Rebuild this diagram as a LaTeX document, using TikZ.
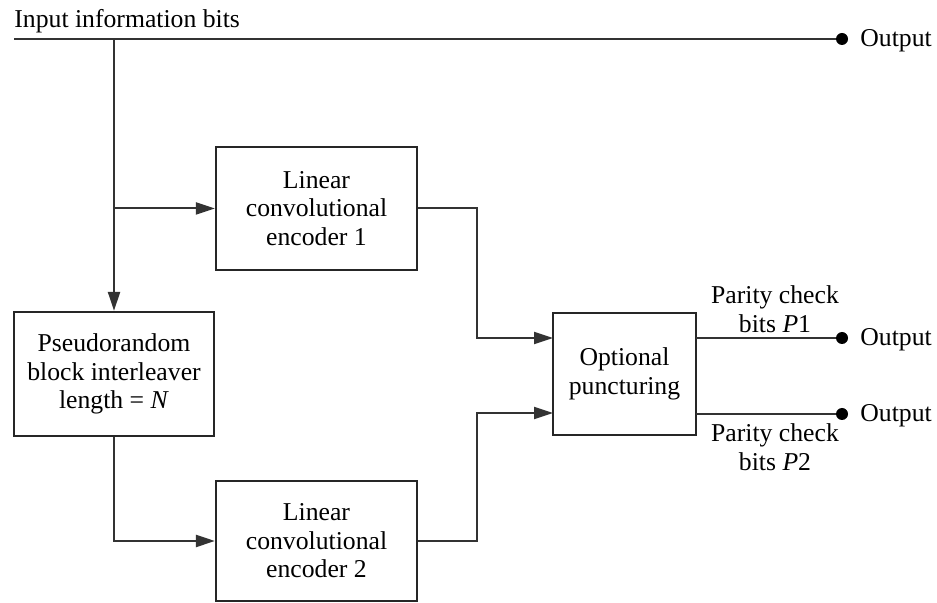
\documentclass[tikz,border=0pt]{standalone}
\usepackage{fontspec}
\setmainfont{Liberation Serif}
\usetikzlibrary{arrows.meta,calc}
\begin{document}
\begin{tikzpicture}[x=0.5pt,y=-0.5pt,
  every node/.style={font=\fontsize{12.85}{14.25}\selectfont},
  blk/.style={draw=black!85,line width=1.1pt,rectangle,align=center,inner sep=0pt},
  conn/.style={draw=black!80,line width=1pt},
  arr/.style={conn,-{Triangle[length=9.5pt,width=6pt]}},
  dotnode/.style={circle,fill=black,inner sep=0pt,minimum size=6pt},
  lbl/.style={inner sep=0pt,align=center}]
\useasboundingbox (0,0) rectangle (937,603);

% boxes
\node[blk,minimum width=100.5pt,minimum height=61.5pt] (enc1) at (316.5,208.5) {Linear\\convolutional\\encoder 1};
\node[blk,minimum width=100pt,minimum height=62pt] (inter) at (114,374) {Pseudorandom\\block interleaver\\length = \textit{N}};
\node[blk,minimum width=100.5pt,minimum height=60pt] (enc2) at (316.5,541) {Linear\\convolutional\\encoder 2};
\node[blk,minimum width=71.5pt,minimum height=61pt] (punct) at (624.5,374) {Optional\\puncturing};

% points
\coordinate (in) at (14,39);
\coordinate (j0) at (114,39);
\coordinate (j1) at (114,208.5);
\coordinate (m1) at (477,208.5);
\coordinate (m2) at (477,541);
\coordinate (pin1) at (553,338);
\coordinate (pin2) at (553,413);
\coordinate (pout1) at (696,338);
\coordinate (pout2) at (696,414);
\node[dotnode] (o0) at (842,39) {};
\node[dotnode] (o1) at (842,338) {};
\node[dotnode] (o2) at (842,414) {};

% connectors
\draw[conn] (in) -- (o0);
\draw[arr] (j0) -- (inter.north);
\draw[arr] (j1) -- (enc1.west);
\draw[arr] (inter.south) |- (enc2.west);
\draw[arr] (enc1.east) -- (m1) |- (pin1);
\draw[arr] (enc2.east) -- (m2) |- (pin2);
\draw[conn] (pout1) -- (o1);
\draw[conn] (pout2) -- (o2);

% texts
\node[lbl,anchor=base west] (tin) at (14,28) {Input information bits};
\node[lbl,anchor=base west] (t0) at (860,47) {Output};
\node[lbl,anchor=base west] (t1) at (860,346) {Output};
\node[lbl,anchor=base west] (t2) at (860,422) {Output};
\node[lbl] (p1) at (775,309) {Parity check\\bits \textit{P}1};
\node[lbl] (p2) at (775,447) {Parity check\\bits \textit{P}2};
\end{tikzpicture}
\end{document}
